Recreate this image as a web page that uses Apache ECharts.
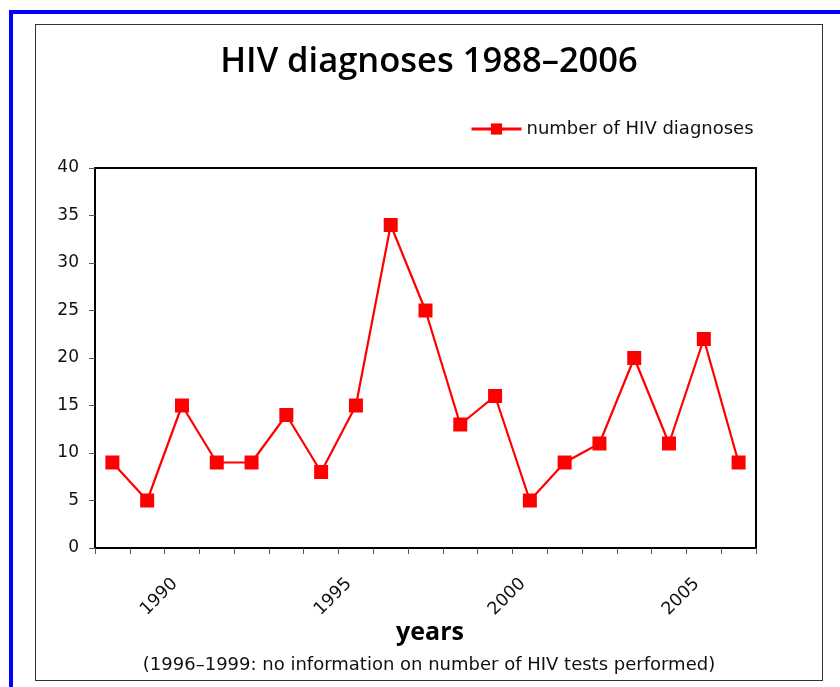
<!DOCTYPE html>
<html>
<head>
<meta charset="utf-8">
<script src="https://cdn.jsdelivr.net/npm/echarts@6/dist/echarts.min.js"></script>
<style>
  html, body { margin: 0; padding: 0; background: #fff; overflow: hidden; }
  #wrap { position: relative; width: 840px; height: 687px; }
  #blue { position: absolute; left: 9px; top: 10px; width: 900px; height: 700px;
          border-left: 4px solid #0000ff; border-top: 4px solid #0000ff; }
  #box { position: absolute; left: 35px; top: 24px; width: 786px; height: 655px;
         border: 1.5px solid #333; }
  #chart1 { position: absolute; left: 0; top: 0; width: 840px; height: 687px; }
</style>
</head>
<body>
<div id="wrap">
  <div id="blue"></div>
  <div id="box"></div>
  <div id="chart1"></div>
</div>
<script>
var years = ['1988', '1989', '1990', '1991', '1992', '1993', '1994', '1995', '1996', '1997',
             '1998', '1999', '2000', '2001', '2002', '2003', '2004', '2005', '2006'];
var diagnoses = [9, 5, 15, 9, 9, 14, 8, 15, 34, 25, 13, 16, 5, 9, 11, 20, 11, 22, 9];
var shownYears = ['1990', '1995', '2000', '2005'];

var myChart1 = echarts.init(document.getElementById('chart1'));

var option1 = {
    animation: false,
    title: [
        {
            text: 'HIV diagnoses 1988\u20132006',
            left: 424,
            textAlign: 'center',
            top: 40,
            textStyle: { fontFamily: 'Open Sans', fontSize: 34.5, fontWeight: 600, color: '#000' }
        },
        {
            text: 'years',
            left: 425,
            textAlign: 'center',
            top: 615,
            textStyle: { fontFamily: 'Open Sans', fontSize: 25, fontWeight: 'bold', color: '#000' }
        },
        {
            text: '(1996\u20131999: no information on number of HIV tests performed)',
            left: 424,
            textAlign: 'center',
            top: 651,
            textStyle: { fontFamily: 'DejaVu Sans', fontSize: 18, fontWeight: 'normal', color: '#111' }
        }
    ],
    legend: {
        left: 470,
        top: 120,
        padding: 0,
        itemWidth: 50,
        itemHeight: 14,
        itemGap: 8,
        lineStyle: { width: 3 },
        textStyle: { fontFamily: 'DejaVu Sans', fontSize: 18, color: '#111' },
        data: ['number of HIV diagnoses']
    },
    grid: {
        left: 95,
        top: 168,
        right: 84,
        bottom: 139,
        show: true,
        borderColor: '#000',
        borderWidth: 2
    },
    xAxis: {
        type: 'category',
        data: years,
        boundaryGap: true,
        axisLine: { lineStyle: { color: '#000', width: 2 } },
        axisTick: { show: true, interval: 0, length: 6, lineStyle: { color: '#555', width: 1 } },
        axisLabel: {
            interval: function (i, v) { return shownYears.indexOf(v) >= 0; },
            rotate: 45,
            margin: 26,
            padding: [0, 10, 0, 0],
            fontFamily: 'DejaVu Sans',
            fontSize: 17.5,
            color: '#111'
        },
        splitLine: { show: false }
    },
    yAxis: {
        type: 'value',
        min: 0,
        max: 40,
        interval: 5,
        axisLine: { show: true, lineStyle: { color: '#000', width: 2 } },
        axisTick: { show: true, length: 6, lineStyle: { color: '#555', width: 1 } },
        axisLabel: { margin: 16, fontFamily: 'DejaVu Sans', fontSize: 17, color: '#111' },
        splitLine: { show: false }
    },
    series: [
        {
            name: 'number of HIV diagnoses',
            type: 'line',
            data: diagnoses,
            symbol: 'rect',
            symbolSize: 14,
            itemStyle: { color: '#ff0000' },
            lineStyle: { color: '#ff0000', width: 2.2 }
        }
    ]
};
myChart1.setOption(option1);

window.onresize = function () {
    myChart1.resize();
}
</script>
</body>
</html>
